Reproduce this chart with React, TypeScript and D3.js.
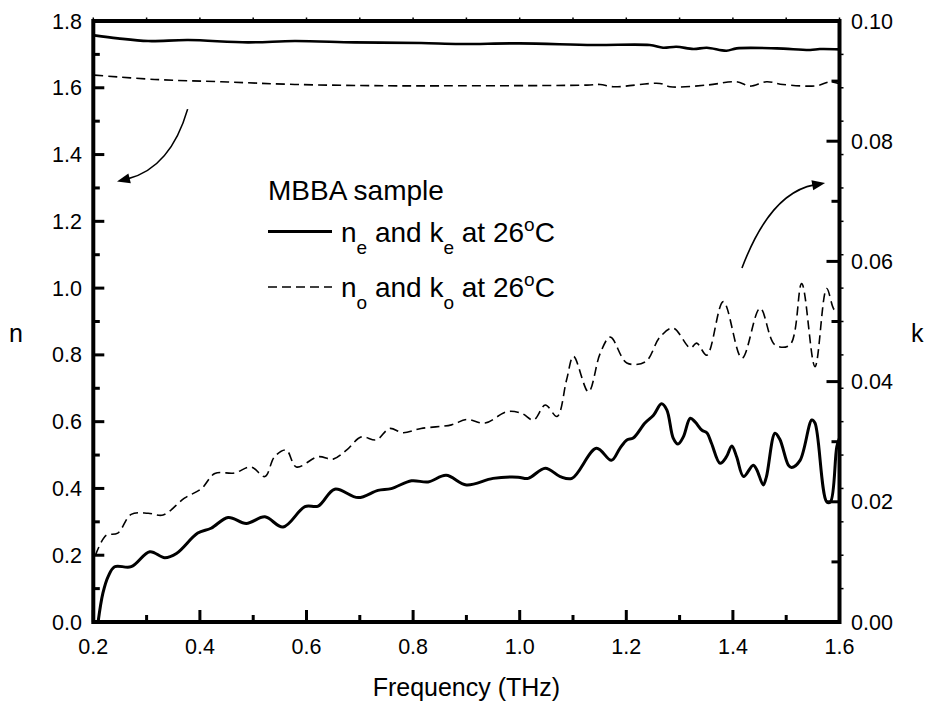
import React from "react";
import * as d3 from "d3";

// ---------- data ----------
const xTicks = [0.2, 0.4, 0.6, 0.8, 1.0, 1.2, 1.4, 1.6];
const nTicks = [0.0, 0.2, 0.4, 0.6, 0.8, 1.0, 1.2, 1.4, 1.6, 1.8];
const kTicks = [0.0, 0.02, 0.04, 0.06, 0.08, 0.1];

// n_e (solid, left axis)
const neFreq = [0.202, 0.246, 0.303, 0.378, 0.49, 0.578, 0.69, 0.815, 0.888, 1.0, 1.138, 1.244, 1.269, 1.294, 1.326, 1.351, 1.388, 1.407, 1.482, 1.545, 1.563, 1.6];
const neVals = [1.757, 1.748, 1.74, 1.743, 1.736, 1.74, 1.736, 1.734, 1.731, 1.733, 1.728, 1.728, 1.72, 1.723, 1.716, 1.72, 1.711, 1.718, 1.718, 1.713, 1.716, 1.715];

// n_o (dashed, left axis)
const noFreq = [0.202, 0.315, 0.44, 0.578, 0.753, 0.888, 1.126, 1.151, 1.176, 1.263, 1.282, 1.351, 1.407, 1.432, 1.463, 1.494, 1.557, 1.582, 1.6];
const noVals = [1.638, 1.625, 1.618, 1.61, 1.606, 1.606, 1.608, 1.61, 1.603, 1.613, 1.603, 1.608, 1.618, 1.605, 1.618, 1.61, 1.606, 1.618, 1.612];

// k_e (solid, right axis)
const keFreq = [0.209, 0.218, 0.228, 0.24, 0.271, 0.306, 0.334, 0.356, 0.396, 0.421, 0.453, 0.487, 0.522, 0.556, 0.597, 0.622, 0.653, 0.697, 0.734, 0.759, 0.797, 0.828, 0.862, 0.9, 0.95, 0.997, 1.016, 1.048, 1.076, 1.098, 1.144, 1.172, 1.188, 1.201, 1.213, 1.235, 1.251, 1.266, 1.276, 1.288, 1.297, 1.307, 1.32, 1.329, 1.342, 1.351, 1.36, 1.376, 1.388, 1.398, 1.407, 1.42, 1.438, 1.445, 1.457, 1.463, 1.479, 1.488, 1.504, 1.51, 1.526, 1.548, 1.554, 1.576, 1.583, 1.595, 1.6];
const keVals = [0.0, 0.0048, 0.0076, 0.0092, 0.0092, 0.0117, 0.0107, 0.0114, 0.0148, 0.0156, 0.0174, 0.0164, 0.0175, 0.0158, 0.0192, 0.0193, 0.0221, 0.0207, 0.0219, 0.0222, 0.0235, 0.0233, 0.0244, 0.0228, 0.0239, 0.0241, 0.0239, 0.0256, 0.0242, 0.0239, 0.0289, 0.0269, 0.0289, 0.0303, 0.0306, 0.0331, 0.0344, 0.0363, 0.0353, 0.0306, 0.0296, 0.0308, 0.0339, 0.0333, 0.0319, 0.0315, 0.0297, 0.0264, 0.0275, 0.0293, 0.0275, 0.0242, 0.0261, 0.0253, 0.0228, 0.0242, 0.0314, 0.0304, 0.0261, 0.0257, 0.0269, 0.0336, 0.0331, 0.02, 0.02, 0.0292, 0.0306];

// k_o (dashed, right axis)
const koFreq = [0.204, 0.224, 0.246, 0.271, 0.303, 0.331, 0.371, 0.403, 0.428, 0.465, 0.496, 0.522, 0.54, 0.562, 0.581, 0.622, 0.65, 0.675, 0.703, 0.731, 0.756, 0.781, 0.815, 0.872, 0.9, 0.935, 0.976, 1.004, 1.026, 1.048, 1.07, 1.088, 1.101, 1.129, 1.151, 1.17, 1.201, 1.236, 1.263, 1.288, 1.32, 1.332, 1.351, 1.382, 1.417, 1.451, 1.479, 1.507, 1.529, 1.554, 1.576, 1.591, 1.6];
const koVals = [0.0111, 0.0144, 0.0148, 0.0179, 0.0181, 0.0178, 0.0206, 0.0222, 0.0247, 0.0248, 0.0258, 0.0242, 0.0275, 0.0286, 0.0258, 0.0275, 0.0271, 0.0286, 0.0308, 0.0303, 0.0322, 0.0315, 0.0322, 0.0328, 0.0337, 0.0331, 0.035, 0.0347, 0.0336, 0.0361, 0.0342, 0.0403, 0.0442, 0.0383, 0.0447, 0.0474, 0.0431, 0.0433, 0.0474, 0.0489, 0.0456, 0.0464, 0.0444, 0.0533, 0.0439, 0.0522, 0.0461, 0.0461, 0.0563, 0.0425, 0.0555, 0.0519, 0.0522];

// annotation arrows in data coords (freq, n): start, control, tip
const arrowLeft = [[0.377, 1.536], [0.345, 1.36], [0.2445, 1.319]];
const arrowRight = [[1.417, 1.06], [1.47, 1.285], [1.573, 1.315]];

const legendTitle = "MBBA sample";

// ---------- layout ----------
const W = 930, H = 709;
const X0 = 93.3, X1 = 839.5, Y0 = 21, Y1 = 622;
const FONT = "Arial, 'Liberation Sans', Helvetica, sans-serif";

export default function App() {
  const x = d3.scaleLinear().domain([0.2, 1.6]).range([X0, X1]);
  const yn = d3.scaleLinear().domain([0, 1.8]).range([Y1, Y0]);
  const yk = d3.scaleLinear().domain([0, 0.1]).range([Y1, Y0]);

  const mk = (fs: number[], vs: number[], ys: d3.ScaleLinear<number, number>, curve: any) =>
    d3.line<number>().x((_, i) => x(fs[i])).y((v) => ys(v)).curve(curve)(vs) || "";

  const smooth = d3.curveCatmullRom.alpha(0.5);
  const pNe = mk(neFreq, neVals, yn, smooth);
  const pNo = mk(noFreq, noVals, yn, smooth);
  const pKe = mk(keFreq, keVals, yk, smooth);
  const pKo = mk(koFreq, koVals, yk, smooth);

  const xMinor = d3.range(0.3, 1.6, 0.2);
  const xAll = d3.range(0.2, 1.601, 0.1);
  const nMinor = d3.range(0.1, 1.8, 0.2);
  const nAll = d3.range(0.1, 1.8, 0.1);
  const kMinor = [0.01, 0.03, 0.05, 0.07, 0.09];

  const arrow = (a: number[][]) => {
    const p = a.map(([f, n]) => [x(f), yn(n)]);
    const [s, c, t] = p;
    const ang = Math.atan2(t[1] - c[1], t[0] - c[0]);
    const L = 13, Wd = 5;
    const bx = t[0] - L * Math.cos(ang), by = t[1] - L * Math.sin(ang);
    const px = -Math.sin(ang) * Wd, py = Math.cos(ang) * Wd;
    const head = `M${t[0]},${t[1]}L${bx + px},${by + py}L${bx - px},${by - py}Z`;
    const ex = t[0] - (L - 2) * Math.cos(ang), ey = t[1] - (L - 2) * Math.sin(ang);
    return (
      <g>
        <path d={`M${s[0]},${s[1]}Q${c[0]},${c[1]} ${ex},${ey}`} fill="none" stroke="#000" strokeWidth={1.6} />
        <path d={head} fill="#000" />
      </g>
    );
  };

  return (
    <svg width={W} height={H} style={{ position: "absolute", left: 0, top: 0, background: "#fff" }} fontFamily={FONT}>
      <rect x={0} y={0} width={W} height={H} fill="#fff" />

      {/* data */}
      <path d={pNe} fill="none" stroke="#000" strokeWidth={2.6} />
      <path d={pNo} fill="none" stroke="#000" strokeWidth={1.6} strokeDasharray="9,5" />
      <path d={pKe} fill="none" stroke="#000" strokeWidth={3} strokeLinejoin="round" />
      <path d={pKo} fill="none" stroke="#000" strokeWidth={1.6} strokeDasharray="9,5" />

      {/* ticks: bottom */}
      {xTicks.map((t) => (
        <line key={"xb" + t} x1={x(t)} x2={x(t)} y1={Y1} y2={Y1 - 12} stroke="#000" strokeWidth={3} />
      ))}
      {xMinor.map((t) => (
        <line key={"xm" + t} x1={x(t)} x2={x(t)} y1={Y1} y2={Y1 - 7} stroke="#000" strokeWidth={3} />
      ))}
      {/* top small outward ticks */}
      {xAll.map((t) => (
        <line key={"xt" + t} x1={x(t)} x2={x(t)} y1={Y0} y2={Y0 - 3.5} stroke="#000" strokeWidth={1.5} />
      ))}
      {/* left ticks */}
      {nTicks.map((t) => (
        <line key={"nl" + t} x1={X0} x2={X0 + 11} y1={yn(t)} y2={yn(t)} stroke="#000" strokeWidth={3} />
      ))}
      {nMinor.map((t) => (
        <line key={"nm" + t} x1={X0} x2={X0 + 6.5} y1={yn(t)} y2={yn(t)} stroke="#000" strokeWidth={3} />
      ))}
      {/* right ticks */}
      {kTicks.map((t) => (
        <line key={"kr" + t} x1={X1} x2={X1 - 13} y1={yk(t)} y2={yk(t)} stroke="#000" strokeWidth={3} />
      ))}
      {kMinor.map((t) => (
        <line key={"km" + t} x1={X1} x2={X1 - 8} y1={yk(t)} y2={yk(t)} stroke="#000" strokeWidth={3} />
      ))}
      {nAll.map((t) => (
        <line key={"ro" + t} x1={X1} x2={X1 + 4} y1={yn(t)} y2={yn(t)} stroke="#000" strokeWidth={1.5} />
      ))}

      {/* frame */}
      <rect x={X0} y={Y0} width={X1 - X0} height={Y1 - Y0} fill="none" stroke="#000" strokeWidth={4} />

      {/* tick labels */}
      {xTicks.map((t) => (
        <text key={"xl" + t} x={x(t)} y={654} textAnchor="middle" fontSize={21.5}>{t.toFixed(1)}</text>
      ))}
      {nTicks.map((t) => (
        <text key={"nlab" + t} x={82} y={yn(t) + 7.5} textAnchor="end" fontSize={21.5}>{t.toFixed(1)}</text>
      ))}
      {kTicks.map((t) => (
        <text key={"klab" + t} x={851} y={yk(t) + 7.5} textAnchor="start" fontSize={21.5}>{t.toFixed(2)}</text>
      ))}

      {/* axis titles */}
      <text x={(X0 + X1) / 2} y={696} textAnchor="middle" fontSize={25}>Frequency (THz)</text>
      <text x={9} y={342} fontSize={25}>n</text>
      <text x={911} y={342} fontSize={25}>k</text>

      {/* legend */}
      <text x={268} y={200} fontSize={28}>{legendTitle}</text>
      <line x1={268} x2={332} y1={231.5} y2={231.5} stroke="#000" strokeWidth={3} />
      <text x={341} y={241.5} fontSize={28}>
        <tspan>n</tspan>
        <tspan fontSize={19} dy={12}>e</tspan>
        <tspan dy={-12}> and k</tspan>
        <tspan fontSize={19} dy={12}>e</tspan>
        <tspan dy={-12}> at 26</tspan>
        <tspan fontSize={19} dy={-11}>o</tspan>
        <tspan dy={11}>C</tspan>
      </text>
      <line x1={268} x2={332} y1={287} y2={287} stroke="#000" strokeWidth={1.6} strokeDasharray="9,5" />
      <text x={341} y={297} fontSize={28}>
        <tspan>n</tspan>
        <tspan fontSize={19} dy={12}>o</tspan>
        <tspan dy={-12}> and k</tspan>
        <tspan fontSize={19} dy={12}>o</tspan>
        <tspan dy={-12}> at 26</tspan>
        <tspan fontSize={19} dy={-11}>o</tspan>
        <tspan dy={11}>C</tspan>
      </text>

      {/* arrows */}
      {arrow(arrowLeft)}
      {arrow(arrowRight)}
    </svg>
  );
}
